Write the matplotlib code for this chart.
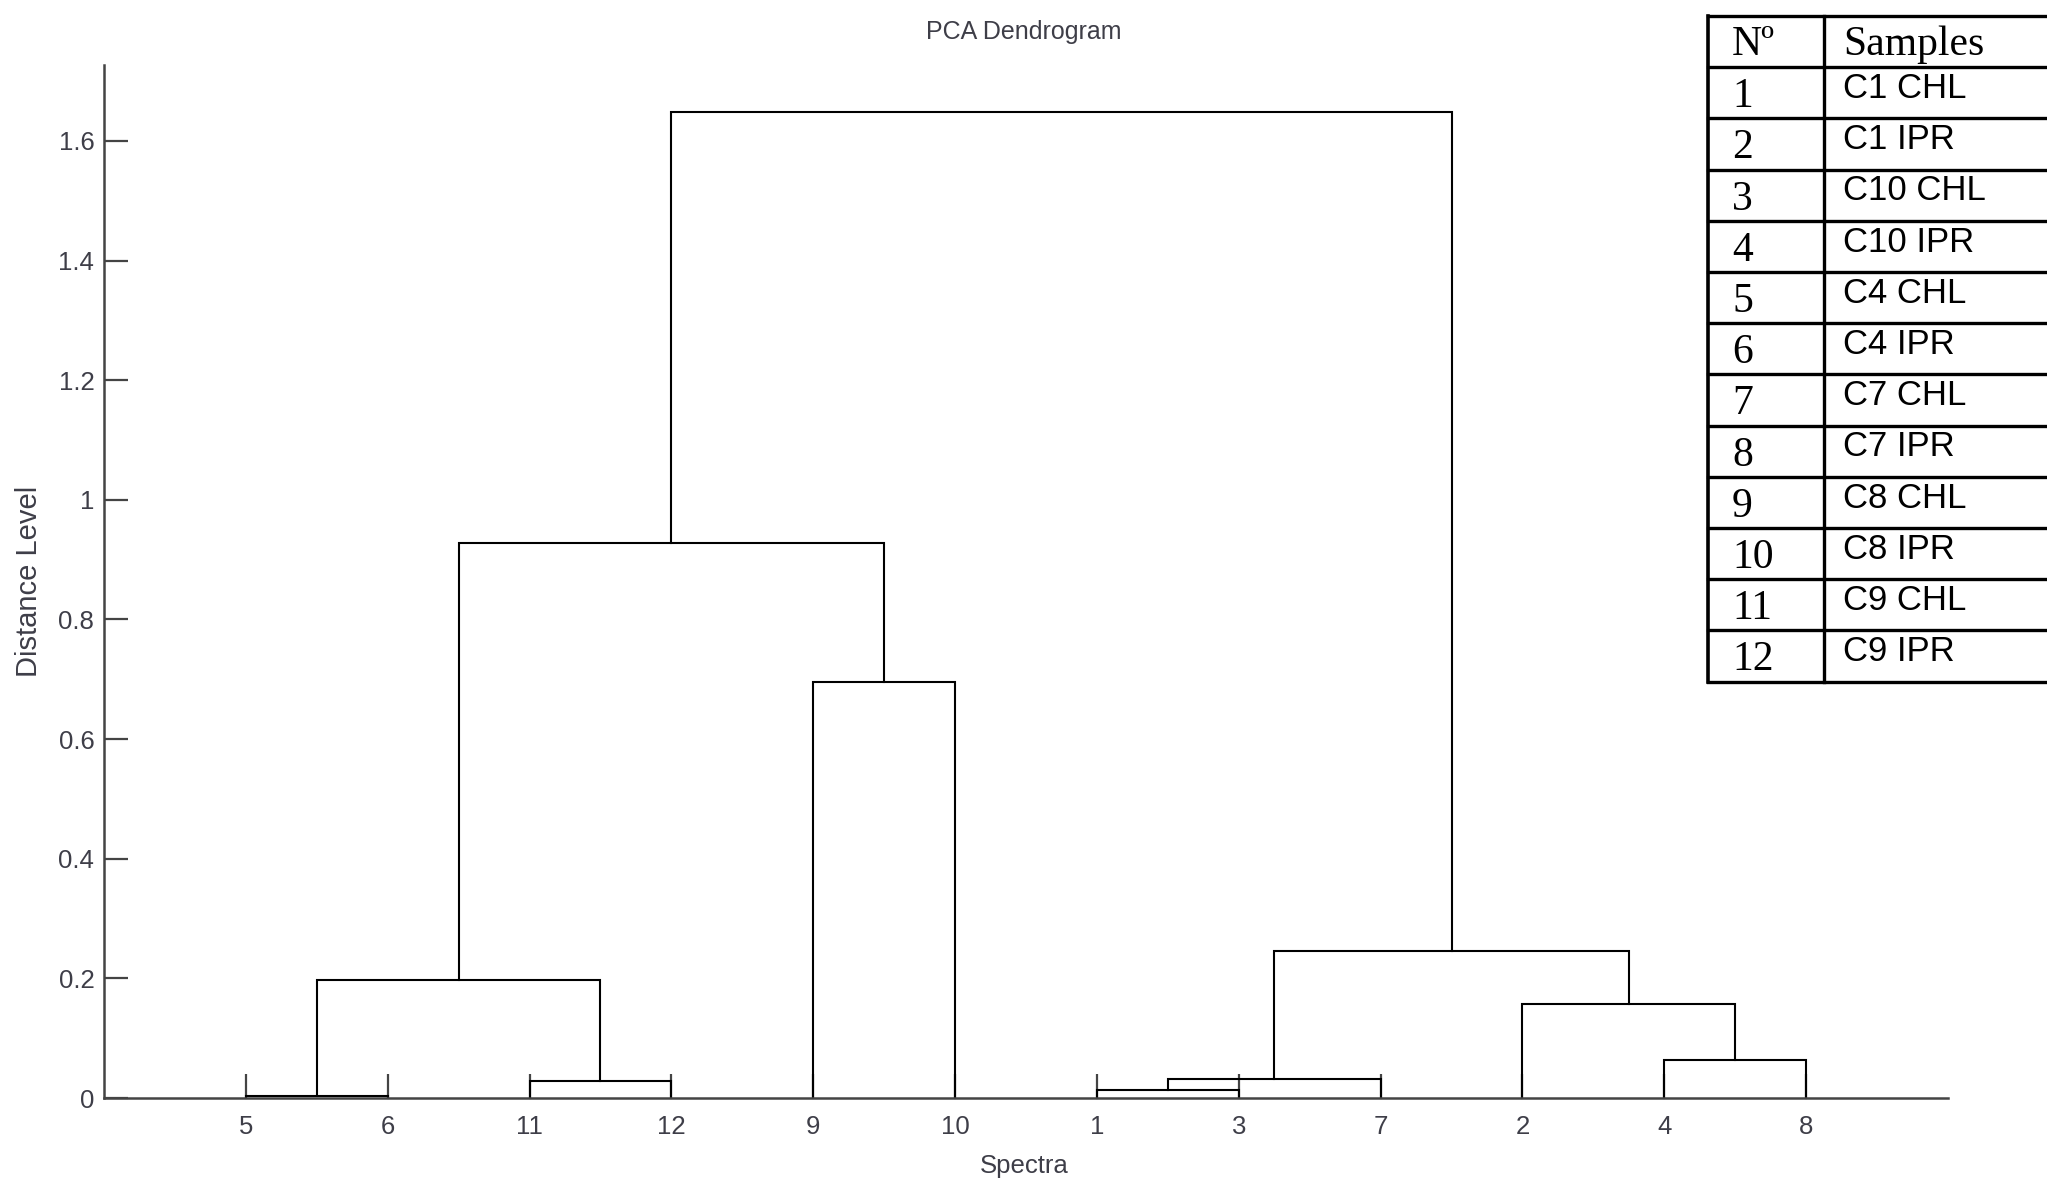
import matplotlib
matplotlib.use('Agg')
import matplotlib.pyplot as plt

# leaf order along the x axis, as the dendrogram put them
leaf_order = [5, 6, 11, 12, 9, 10, 1, 3, 7, 2, 4, 8]

# linkage: new cluster 13, 14, ... made by joining node_a and node_b at that height
node_a = [5, 1, 11, 14, 4, 2, 13, 16, 9, 19, 22]
node_b = [6, 3, 12, 7, 8, 17, 15, 18, 10, 21, 20]
heights = [0.003, 0.014, 0.028, 0.031, 0.063, 0.157, 0.198, 0.245, 0.695, 0.928, 1.648]

yticks = [0, 0.2, 0.4, 0.6, 0.8, 1.0, 1.2, 1.4, 1.6]
ytick_labels = ['0', '0.2', '0.4', '0.6', '0.8', '1', '1.2', '1.4', '1.6']

# sample key table
table_head = ['Nº', 'Samples']
table_ids = ['1', '2', '3', '4', '5', '6', '7', '8', '9', '10', '11', '12']
table_samples = ['C1 CHL', 'C1 IPR', 'C10 CHL', 'C10 IPR', 'C4 CHL', 'C4 IPR',
                 'C7 CHL', 'C7 IPR', 'C8 CHL', 'C8 IPR', 'C9 CHL', 'C9 IPR']

W, H = 2047, 1182
txt_col = '#3e3e48'
axis_col = '#444444'
plt.rcParams['font.family'] = ['Liberation Sans', 'DejaVu Sans']
serif = ['Liberation Serif', 'DejaVu Serif']

fig = plt.figure(figsize=(W / 100, H / 100), dpi=100)
ax = fig.add_axes([104 / W, 1 - 1098 / H, (1948 - 104) / W, (1098 - 65) / H])

# draw the U links
pos = {leaf: i + 1 for i, leaf in enumerate(leaf_order)}
level = {leaf: 0.0 for leaf in leaf_order}
n = len(leaf_order)
for k, (a, b, h) in enumerate(zip(node_a, node_b, heights)):
    xa, xb = pos[a], pos[b]
    ax.plot([xa, xa, xb, xb], [level[a], h, h, level[b]], color='black', lw=1.5,
            solid_joinstyle='miter', clip_on=False)
    pos[n + 1 + k] = (xa + xb) / 2
    level[n + 1 + k] = h

ax.set_xlim(0, n + 1)
ax.set_ylim(0, 1.727)
ax.set_xticks(range(1, n + 1))
ax.set_xticklabels([str(v) for v in leaf_order])
ax.set_yticks(yticks)
ax.set_yticklabels(ytick_labels)
ax.tick_params(direction='in', length=17, width=1.6, color=axis_col,
               labelsize=18.5, labelcolor=txt_col)
ax.tick_params(axis='x', pad=12)
ax.tick_params(axis='y', pad=7)
for s in ['top', 'right']:
    ax.spines[s].set_visible(False)
for s in ['left', 'bottom']:
    ax.spines[s].set_color(axis_col)
    ax.spines[s].set_linewidth(1.8)

fig.text(1024 / W, 1 - 32 / H, 'PCA Dendrogram', ha='center', va='center',
         fontsize=18, color=txt_col)
fig.text(1024 / W, 1 - 1166 / H, 'Spectra', ha='center', va='center',
         fontsize=18.5, color=txt_col)
fig.text(29 / W, 1 - 581 / H, 'Distance Level', ha='center', va='center',
         rotation=90, fontsize=21, color=txt_col)

# table drawn in pixel coordinates on an overlay axes
tab = fig.add_axes([0, 0, 1, 1])
tab.set_xlim(0, W)
tab.set_ylim(H, 0)
tab.axis('off')

t_left, t_div, t_right = 1708, 1824, W + 5
t_top, row_h = 16, 51.2
n_rows = len(table_ids) + 1
t_bot = t_top + n_rows * row_h
for i in range(n_rows + 1):
    y = t_top + i * row_h
    tab.plot([t_left, t_right], [y, y], color='black', lw=2.4, clip_on=False)
tab.plot([t_left, t_left], [t_top, t_bot], color='black', lw=2.6)
tab.plot([t_div, t_div], [t_top, t_bot], color='black', lw=2.4)

col1_x, col2_x = 1732, 1843
tab.text(col1_x, t_top + 0.76 * row_h, table_head[0], fontsize=30,
         family=serif, va='baseline', color='black')
tab.text(col2_x, t_top + 0.76 * row_h, table_head[1], fontsize=30,
         family=serif, va='baseline', color='black')
for i, (num, name) in enumerate(zip(table_ids, table_samples)):
    y0 = t_top + (i + 1) * row_h
    tab.text(col1_x, y0 + 0.78 * row_h, num, fontsize=30,
             family=serif, va='baseline', color='black')
    tab.text(col2_x, y0 + 0.60 * row_h, name, fontsize=25, va='baseline', color='black')

fig.savefig('out.png', dpi=100)
